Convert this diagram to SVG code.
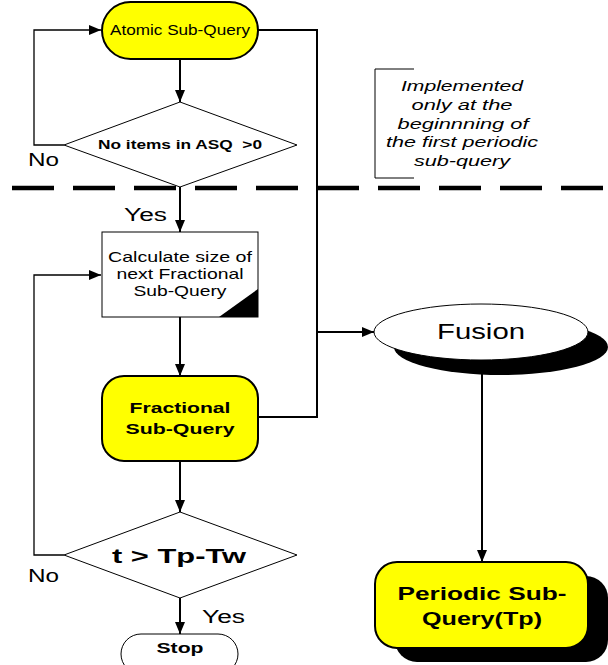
<svg xmlns="http://www.w3.org/2000/svg" width="608" height="665" viewBox="0 0 608 665">
<defs>
<marker id="ah" viewBox="0 0 12 10" refX="12" refY="5" markerWidth="12" markerHeight="10" markerUnits="userSpaceOnUse" orient="auto">
<path d="M0,0 L12,5 L0,10 Z" fill="#000"/>
</marker>
</defs>
<style>
text{font-family:"Liberation Sans",Arial,sans-serif;fill:#000;text-anchor:middle}
.b{font-weight:bold}
.conn{fill:none;stroke:#000;stroke-width:2}
.thin{fill:none;stroke:#000;stroke-width:1.3}
.yellow{fill:#ffff00;stroke:#000;stroke-width:2}
.white{fill:#fff;stroke:#000;stroke-width:1}
.shadow{fill:#000}
.it{font-style:italic;font-size:15px}
</style>
<rect width="608" height="665" fill="#fff"/>

<g id="connectors">
<line class="conn" x1="180" y1="59" x2="180" y2="102" marker-end="url(#ah)"/>
<polyline class="thin" points="64,145 34,145 34,30 101,30" marker-end="url(#ah)"/>
<line class="conn" x1="180" y1="187" x2="180" y2="232" marker-end="url(#ah)"/>
<polyline class="thin" points="64,555 34,555 34,275 101,275" marker-end="url(#ah)"/>
<line class="conn" x1="180" y1="317" x2="180" y2="376" marker-end="url(#ah)"/>
<line class="conn" x1="180" y1="461" x2="180" y2="512" marker-end="url(#ah)"/>
<line class="conn" x1="180" y1="598" x2="180" y2="634" marker-end="url(#ah)"/>
<polyline class="conn" points="258,30 317,30 317,417 258,417"/>
<line class="conn" x1="317" y1="332" x2="374" y2="332" marker-end="url(#ah)"/>
<line class="conn" x1="482" y1="360" x2="482" y2="562" marker-end="url(#ah)"/>
</g>

<g id="divider">
<line x1="12" y1="188" x2="608" y2="188" stroke="#000" stroke-width="4.5" stroke-dasharray="42,19"/>
</g>

<g id="atomic">
<rect class="yellow" x="102" y="2" width="156" height="57" rx="28.5"/>
<text x="180" y="35" font-size="15" textLength="140" lengthAdjust="spacingAndGlyphs">Atomic Sub-Query</text>
</g>

<g id="decision1">
<polygon class="white" points="180,102 297,145 180,187 64,145"/>
<text class="b" x="180" y="149" font-size="13" textLength="164" lengthAdjust="spacingAndGlyphs" xml:space="preserve">No items in ASQ  &gt;0</text>
</g>

<g id="labels">
<text x="43.5" y="166" font-size="18" textLength="31" lengthAdjust="spacingAndGlyphs">No</text>
<text x="145.5" y="221" font-size="18" textLength="43" lengthAdjust="spacingAndGlyphs">Yes</text>
<text x="43.5" y="582" font-size="18" textLength="31" lengthAdjust="spacingAndGlyphs">No</text>
<text x="223.5" y="623" font-size="18" textLength="43" lengthAdjust="spacingAndGlyphs">Yes</text>
</g>

<g id="note">
<polyline fill="none" stroke="#000" stroke-width="1" points="414,69 375,69 375,178 414,178"/>
<text class="it" x="462" y="91" textLength="122" lengthAdjust="spacingAndGlyphs">Implemented</text>
<text class="it" x="462" y="110" textLength="101" lengthAdjust="spacingAndGlyphs">only at the</text>
<text class="it" x="463" y="129" textLength="131" lengthAdjust="spacingAndGlyphs">beginnning of</text>
<text class="it" x="462" y="147" textLength="152" lengthAdjust="spacingAndGlyphs">the first periodic</text>
<text class="it" x="462" y="166" textLength="96" lengthAdjust="spacingAndGlyphs">sub-query</text>
</g>

<g id="calculate">
<rect class="white" x="102" y="232" width="156" height="85"/>
<polygon points="219,317 258,317 258,289" fill="#000"/>
<text x="180" y="262" font-size="15" textLength="144" lengthAdjust="spacingAndGlyphs">Calculate size of</text>
<text x="180" y="279" font-size="15" textLength="127" lengthAdjust="spacingAndGlyphs">next Fractional</text>
<text x="180" y="296" font-size="15" textLength="93" lengthAdjust="spacingAndGlyphs">Sub-Query</text>
</g>

<g id="fractional">
<rect class="yellow" x="102" y="376" width="156" height="85" rx="22"/>
<text class="b" x="180" y="413" font-size="15.5" textLength="101" lengthAdjust="spacingAndGlyphs">Fractional</text>
<text class="b" x="180" y="434" font-size="15.5" textLength="109" lengthAdjust="spacingAndGlyphs">Sub-Query</text>
</g>

<g id="decision2">
<polygon class="white" points="180,512 297,555 180,598 64,555"/>
<text class="b" x="179" y="563" font-size="21" textLength="134" lengthAdjust="spacingAndGlyphs">t &gt; Tp-Tw</text>
</g>

<g id="stop">
<rect class="white" x="121" y="634" width="117" height="40" rx="20"/>
<text class="b" x="180" y="653" font-size="15.5" textLength="47" lengthAdjust="spacingAndGlyphs">Stop</text>
</g>

<g id="fusion">
<ellipse class="shadow" cx="501" cy="347" rx="107" ry="28"/>
<ellipse class="white" cx="481" cy="332" rx="107" ry="28"/>
<text x="481" y="339" font-size="22" textLength="88" lengthAdjust="spacingAndGlyphs">Fusion</text>
</g>

<g id="periodic">
<rect class="shadow" x="395" y="576" width="213" height="86" rx="22"/>
<rect class="yellow" x="375" y="562" width="213" height="86" rx="22" stroke-width="1"/>
<text class="b" x="482" y="600" font-size="19" textLength="169" lengthAdjust="spacingAndGlyphs">Periodic Sub-</text>
<text class="b" x="482" y="625" font-size="19" textLength="120" lengthAdjust="spacingAndGlyphs">Query(Tp)</text>
</g>
</svg>
